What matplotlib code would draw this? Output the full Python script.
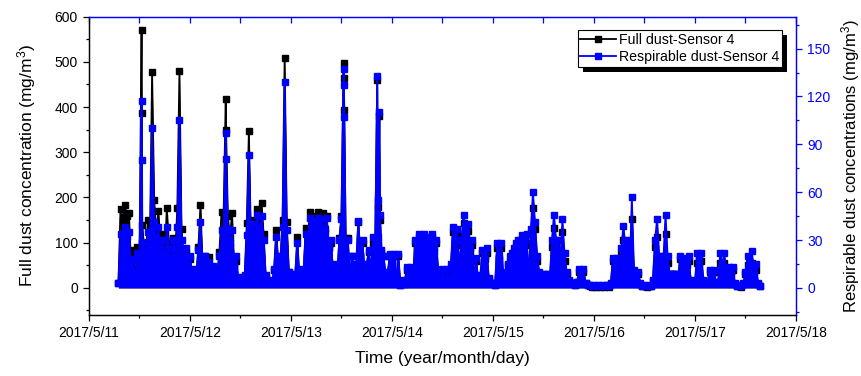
import matplotlib
matplotlib.use("Agg")
import matplotlib.pyplot as plt
import matplotlib.dates as mdates
from matplotlib.ticker import MultipleLocator, FuncFormatter
from matplotlib.patches import Rectangle
from matplotlib.transforms import IdentityTransform
import pandas as pd
from datetime import datetime

plt.rcParams['font.family'] = ['Liberation Sans', 'DejaVu Sans']
plt.rcParams['mathtext.default'] = 'regular'

# half-hourly readings starting 2017-05-11 07:00
start_time = "2017-05-11 07:00"
step = "30min"

# Respirable dust, Sensor 4 (mg/m3) - right axis
resp = [
    3, 34, 30, 38, 32, 35, 12, 18, 4, 22, 15, 117,
    24, 15, 35, 25, 100, 41, 28, 38, 20, 30, 15, 38,
    25, 15, 30, 20, 38, 105, 30, 18, 25, 12, 20, 10,
    12, 8, 24, 41, 14, 20, 10, 16, 12, 14, 6, 10,
    20, 36, 36, 97, 37, 28, 36, 14, 20, 5, 7, 3,
    8, 33, 83, 25, 40, 30, 46, 35, 45, 30, 8, 3,
    5, 3, 12, 32, 15, 20, 38, 129, 36, 10, 9, 5,
    8, 28, 6, 12, 10, 34, 30, 44, 38, 42, 35, 44,
    38, 43, 35, 44, 25, 30, 10, 15, 8, 30, 43, 137,
    30, 30, 8, 20, 10, 15, 42, 20, 30, 8, 15, 24,
    10, 32, 24, 133, 110, 24, 20, 8, 10, 21, 18, 21,
    4, 21, 2, 5, 3, 13, 10, 13, 4, 30, 28, 34,
    30, 34, 28, 32, 30, 34, 25, 30, 10, 5, 12, 4,
    12, 4, 15, 38, 30, 37, 12, 30, 46, 35, 40, 25,
    30, 5, 19, 4, 8, 24, 20, 25, 6, 3, 3, 2,
    28, 20, 28, 5, 10, 15, 20, 22, 25, 28, 30, 30,
    33, 30, 34, 5, 37, 60, 41, 20, 10, 3, 9, 3,
    9, 5, 30, 46, 30, 30, 15, 43, 22, 10, 5, 3,
    3, 2, 4, 12, 10, 12, 3, 2, 2, 1, 2, 1,
    2, 1, 2, 1, 2, 1, 3, 19, 15, 19, 8, 25,
    39, 25, 30, 10, 57, 11, 5, 10, 3, 1, 2, 1,
    2, 1, 5, 30, 43, 20, 20, 18, 46, 20, 9, 9,
    9, 9, 5, 20, 15, 19, 16, 20, 5, 3, 4, 22,
    20, 22, 5, 3, 4, 11, 9, 11, 3, 4, 22, 15,
    22, 5, 13, 10, 13, 3, 1, 2, 1, 3, 10, 20,
    15, 23, 12, 15, 3, 1,
]

# Full dust, Sensor 4 (mg/m3) - left axis
full = [
    10, 175, 150, 184, 160, 165, 50, 84, 15, 90, 60, 570,
    100, 60, 150, 110, 477, 195, 120, 170, 90, 120, 60, 177,
    100, 60, 110, 80, 177, 479, 130, 70, 80, 40, 65, 35,
    40, 25, 90, 184, 50, 70, 35, 69, 40, 45, 20, 30,
    80, 168, 165, 418, 160, 110, 165, 50, 60, 15, 20, 10,
    25, 143, 347, 100, 150, 120, 175, 140, 188, 120, 25, 10,
    15, 10, 40, 128, 50, 60, 150, 509, 146, 35, 25, 15,
    25, 113, 20, 40, 35, 133, 110, 168, 140, 160, 130, 168,
    140, 165, 130, 160, 90, 100, 35, 50, 25, 110, 160, 497,
    110, 110, 25, 70, 35, 50, 146, 70, 100, 25, 50, 80,
    30, 100, 80, 460, 380, 80, 70, 25, 30, 70, 60, 70,
    12, 70, 6, 15, 8, 40, 30, 40, 12, 100, 90, 113,
    100, 110, 90, 105, 100, 113, 80, 100, 30, 15, 35, 12,
    35, 12, 45, 124, 100, 120, 40, 95, 144, 110, 125, 80,
    95, 15, 60, 12, 25, 78, 65, 78, 20, 10, 10, 6,
    88, 65, 88, 15, 30, 50, 60, 70, 80, 90, 95, 95,
    105, 95, 100, 15, 120, 177, 130, 60, 30, 10, 30, 10,
    30, 15, 90, 133, 90, 80, 45, 124, 60, 30, 15, 10,
    10, 6, 12, 35, 30, 35, 10, 6, 5, 3, 5, 3,
    5, 3, 5, 3, 6, 3, 8, 60, 45, 55, 25, 75,
    106, 75, 90, 30, 153, 35, 15, 30, 8, 4, 5, 3,
    5, 4, 15, 90, 113, 60, 60, 55, 119, 55, 30, 30,
    30, 30, 15, 65, 45, 55, 50, 60, 15, 10, 12, 56,
    55, 60, 15, 10, 12, 35, 30, 35, 10, 12, 55, 40,
    55, 15, 40, 30, 40, 8, 4, 5, 3, 8, 30, 50,
    45, 56, 35, 40, 8, 4,
]

# extra readings logged during the short dust bursts
burst_times = ["2017-05-11 12:35", "2017-05-11 12:40",
               "2017-05-12 08:35",
               "2017-05-13 12:35", "2017-05-13 12:40",
               "2017-05-13 20:40", "2017-05-13 20:45", "2017-05-13 21:10"]
burst_resp = [80, 29, 81, 127, 107, 55, 32, 46]
burst_full = [387, 140, 350, 464, 394, 180, 100, 150]

x_ticks_days = [datetime(2017, 5, d) for d in range(11, 19)]
left_ticks = [0, 100, 200, 300, 400, 500, 600]
right_ticks = [0, 30, 60, 90, 120, 150]

base = pd.DataFrame({'t': pd.date_range(start=start_time, periods=len(full), freq=step),
                     'full': full, 'resp': resp})
extra = pd.DataFrame({'t': pd.to_datetime(burst_times),
                      'full': burst_full, 'resp': burst_resp})
data = pd.concat([base, extra]).sort_values('t').reset_index(drop=True)

fig = plt.figure(figsize=(8.62, 3.76), dpi=100)
ax = fig.add_axes([0.1032, 0.1622, 0.8202, 0.7934])
ax2 = ax.twinx()

blue = '#0000ff'
# dense sensor record rendered as filled band under the line-symbol trace
ax.fill_between(data['t'], 0, data['full'], color='black', lw=0)
l1, = ax.plot(data['t'], data['full'], color='black', lw=1.3, marker='s', ms=5,
              mec='black', mfc='black', label='Full dust-Sensor 4')
ax2.fill_between(data['t'], 0, data['resp'], color=blue, lw=0)
l2, = ax2.plot(data['t'], data['resp'], color=blue, lw=1.3, marker='s', ms=5,
               mec=blue, mfc=blue, label='Respirable dust-Sensor 4')

ax.set_xlim(datetime(2017, 5, 11), datetime(2017, 5, 18))
ax.set_ylim(-60, 600)
ax2.set_ylim(-17, 170)

ax.set_xticks(x_ticks_days)
ax.xaxis.set_major_formatter(FuncFormatter(
    lambda v, p: (lambda d: f"{d.year}/{d.month}/{d.day}")(mdates.num2date(v))))
ax.xaxis.set_minor_locator(mdates.HourLocator(byhour=[12]))
ax.set_yticks(left_ticks)
ax.yaxis.set_minor_locator(MultipleLocator(50))
ax2.set_yticks(right_ticks)
ax2.yaxis.set_minor_locator(MultipleLocator(15))

fs_tick = 10
ax.tick_params(axis='both', which='major', direction='out', length=4.5, width=0.9,
               labelsize=fs_tick, top=False, right=False)
ax.tick_params(axis='both', which='minor', direction='out', length=2.5, width=0.9,
               top=False, right=False)
ax2.tick_params(axis='y', which='major', direction='out', length=4.5, width=0.9,
                colors=blue, labelsize=fs_tick)
ax2.tick_params(axis='y', which='minor', direction='out', length=2.5, width=0.9,
                colors=blue)
ax2.xaxis.set_visible(True)
ax2.tick_params(axis='x', which='both', bottom=False, top=True, labelbottom=False,
                labeltop=False, direction='in', length=4.5, width=0.9, color=blue)

for a in (ax, ax2):
    a.spines['top'].set_color(blue)
    a.spines['right'].set_color(blue)
    a.spines['left'].set_color('black')
    a.spines['bottom'].set_color('black')
    for s in a.spines.values():
        s.set_linewidth(0.9)

ax.set_ylabel('Full dust concentration (mg/m$^3$)', fontsize=12.5, labelpad=12)
ax.set_xlabel('Time (year/month/day)', fontsize=12.5, labelpad=8)
ax2.set_ylabel('Respirable dust concentrations (mg/m$^3$)', fontsize=12, labelpad=6)

leg = ax2.legend(handles=[l1, l2], loc='upper right', bbox_to_anchor=(0.98, 0.955),
                 borderaxespad=0, fontsize=10.2, frameon=True, fancybox=False,
                 edgecolor='black', framealpha=1, handlelength=2.5,
                 borderpad=0.2, labelspacing=0.2, handletextpad=0.2)
leg.get_frame().set_linewidth(0.8)
leg.set_zorder(10)

# solid drop shadow behind the legend box
fig.canvas.draw()
bb = leg.get_window_extent()
shadow = Rectangle((bb.x0 + 5, bb.y0 - 5), bb.width, bb.height,
                   transform=IdentityTransform(), facecolor='black',
                   edgecolor='none', zorder=9, clip_on=False)
ax2.add_artist(shadow)

fig.savefig('out.png', dpi=100)
